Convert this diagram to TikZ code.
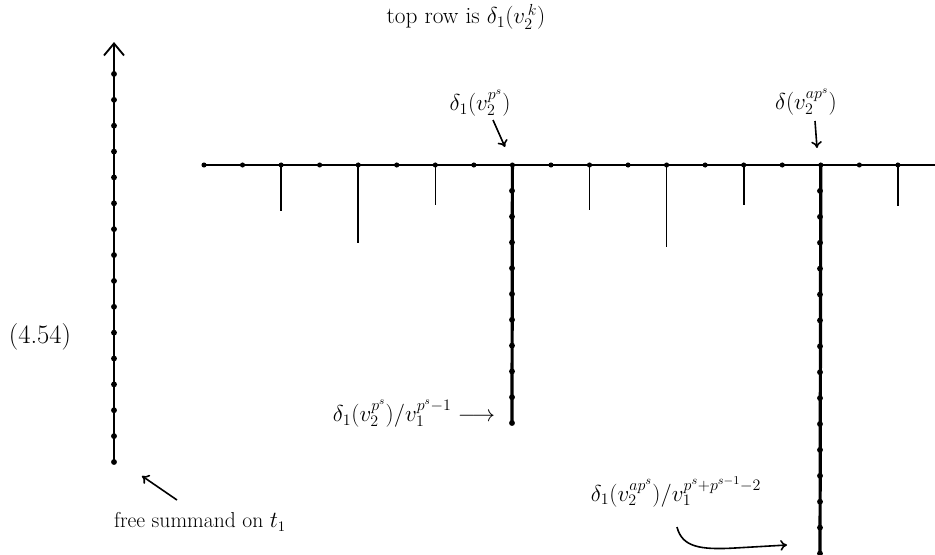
\documentclass[tikz,border=0pt]{standalone}
\usetikzlibrary{arrows.meta}
\begin{document}
\begin{tikzpicture}[x=0.75pt,y=-0.75pt,
  axis/.style={line width=1.4pt},
  thickaxis/.style={line width=2.4pt},
  hang/.style={line width=1.2pt},
  dotmark/.style={circle,fill=black,inner sep=0pt,minimum size=4.4pt},
  lab/.style={inner sep=0pt,font=\fontsize{15}{18}\selectfont},
  mlab/.style={inner sep=0pt,font=\fontsize{16.5}{19}\selectfont},
  pointer/.style={line width=1.2pt,-{To[length=5pt,width=8pt]}}]
\useasboundingbox (0,0) rectangle (935,554);
% left vertical (free summand)
\coordinate (Lb) at (114,462);
\coordinate (Lt) at (114,42);
\draw[axis,-{Straight Barb[length=9pt,width=15pt,line width=1.4pt]}] (Lb) -- (Lt);
\foreach \k in {0,...,15} \node[dotmark] (ld\k) at (114,{462-25.87*\k}) {};
% top horizontal row
\coordinate (Hl) at (203,165);
\coordinate (Hr) at (935,165);
\draw[axis] (Hl) -- (Hr);
\foreach \k in {0,...,18} \node[dotmark,minimum size=3.8pt] (hd\k) at ({204+38.55*\k},165) {};
% hanging short/long lines
\foreach \k/\e in {2/211,4/243,6/205,10/210,12/247,14/205,18/206}
  \draw[hang] (hd\k.center) -- ({204+38.55*\k},\e);
% thick tower at p^s
\coordinate (Ab) at (512,423);
\draw[thickaxis] (hd8.center) -- (Ab);
\foreach \k in {1,...,10} \node[dotmark] (ad\k) at (512,{165+25.8*\k}) {};
% thick tower at ap^s
\coordinate (Bb) at (820,560);
\draw[thickaxis] (hd16.center) -- (Bb);
\foreach \k in {1,...,15} \node[dotmark] (bd\k) at (820,{165+25.9*\k}) {};
% labels
\node[lab,font=\fontsize{17.5}{20}\selectfont] (top) at (466,17) {top row is $\delta_{1}(v_{2}^{\,k})$};
\node[mlab] (ps) at (480,103) {$\delta_1(v_2^{p^s})$};
\coordinate (psA) at (493,120);
\coordinate (psB) at (505,147);
\draw[pointer] (psA) -- (psB);
\node[mlab] (aps) at (806,102) {$\delta(v_2^{ap^s})$};
\coordinate (apsA) at (815,121);
\coordinate (apsB) at (817,148);
\draw[pointer] (apsA) -- (apsB);
\node[lab,font=\fontsize{20}{24}\selectfont] (eq) at (40,337) {(4.54)};
\node[lab,font=\fontsize{16.2}{19}\selectfont] (free) at (200,522) {free summand on $t_1$};
\coordinate (frA) at (177,500);
\coordinate (frB) at (142,476);
\draw[pointer] (frA) -- (frB);
\node[mlab] (low) at (414,414) {$\delta_1(v_2^{p^s})/v_1^{p^s-1}\longrightarrow$};
\node[lab,font=\fontsize{18}{21}\selectfont] (low2) at (676,492) {$\delta_1(v_2^{ap^s})/v_1^{p^s+p^{s-1}-2}$};
\coordinate (cA) at (677,527);
\coordinate (cB) at (787,545);
\draw[pointer] (cA) .. controls (682,547) and (700,550) .. (735,548) -- (cB);
\end{tikzpicture}
\end{document}
